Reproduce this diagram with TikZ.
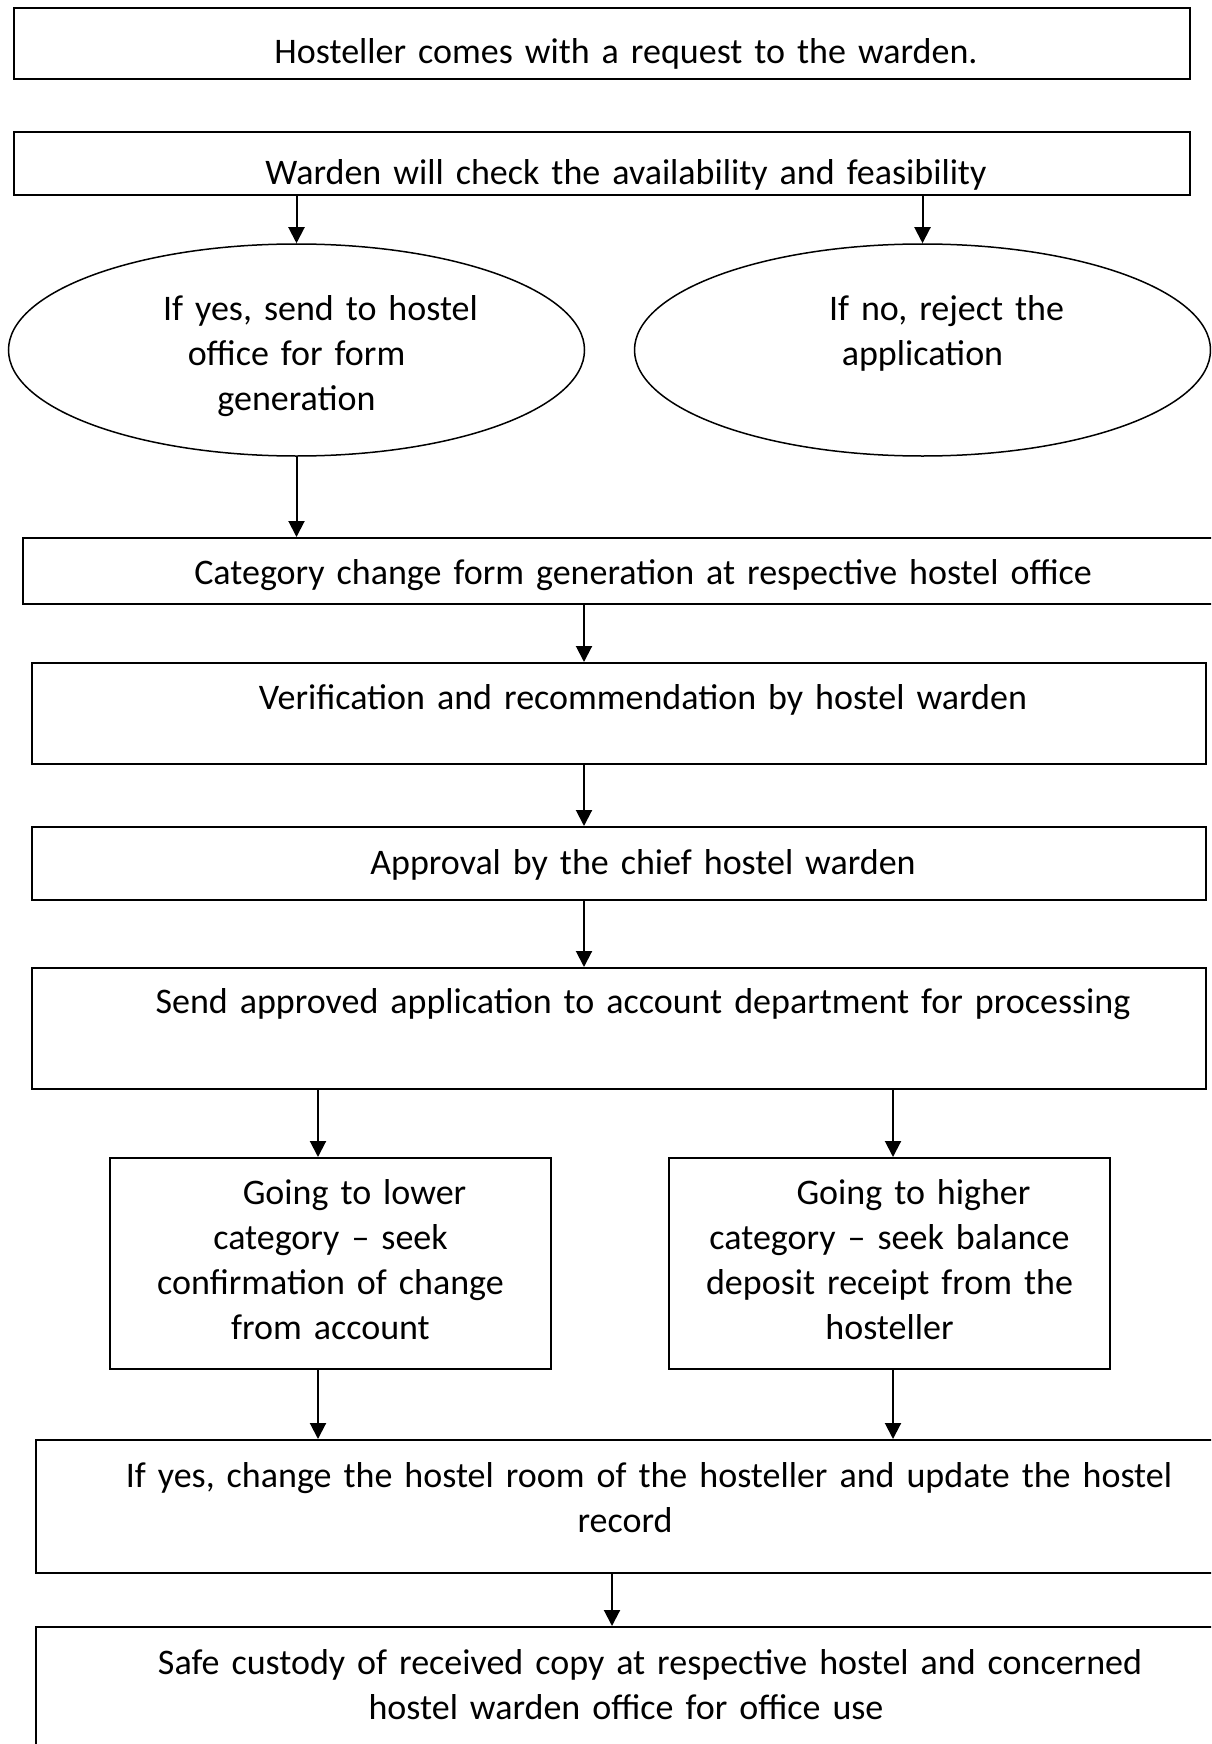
\documentclass[tikz,border=0pt]{standalone}
\usepackage{fontspec}
\setmainfont{Carlito}
\usetikzlibrary{arrows.meta,shapes.geometric}

\begin{document}
\begin{tikzpicture}[
    x=0.5pt, y=-0.5pt,
    font=\fontsize{18pt}{22.5pt}\selectfont,
    stage/.style={draw, line width=1pt, rectangle, anchor=north, inner sep=0pt, align=center, text width=#1, minimum width=#1},
    choice/.style={draw, line width=0.75pt, ellipse, inner sep=0pt, minimum width=288pt, minimum height=106pt, text width=190pt, align=center, text height=15pt, text depth=45pt},
    flow/.style={-{Triangle[length=8pt,width=8pt]}, line width=1pt}
]

% page frame (bottom and right boxes run off the page)
\useasboundingbox (0,0) rectangle (1211,1744);
\clip (0,0) rectangle (1211,1744);

% first line indent of the text
\def\xind{24pt}

% ===== REQUEST =====
\node[stage=588pt, text height=28pt, text depth=7.5pt] (req) at (602,7) {\hspace*{\xind}Hosteller comes with a request to the warden.};
\node[stage=588pt, text height=26.5pt, text depth=5pt] (check) at (602,131) {\hspace*{\xind}Warden will check the availability and feasibility};

% ===== DECISION =====
\node[choice] (yes) at (296.5,350) {\hspace*{\xind}If yes, send to hostel\\ office for form\\ generation};
\node[choice] (no) at (922.5,350) {\hspace*{\xind}If no, reject the\\ application};

% ===== MAIN FLOW =====
\node[stage=596pt, text height=23pt, text depth=10pt] (form) at (619,537) {\hspace*{\xind}Category change form generation at respective hostel office};
\node[stage=587pt, text height=23pt, text depth=27.5pt] (verify) at (619,662) {\hspace*{\xind}Verification and recommendation by hostel warden};
\node[stage=587pt, text height=23.5pt, text depth=13pt] (approve) at (619,826) {\hspace*{\xind}Approval by the chief hostel warden};
\node[stage=587pt, text height=22.5pt, text depth=38pt] (send) at (619,967) {\hspace*{\xind}Send approved application to account department for processing};

% ===== CATEGORY BRANCHES =====
\node[stage=220.5pt, text height=23pt, text depth=82.5pt] (lower) at (330.5,1157) {\hspace*{\xind}Going to lower\\ category – seek\\ confirmation of change\\ from account};
\node[stage=220.5pt, text height=23pt, text depth=82.5pt] (higher) at (889.5,1157) {\hspace*{\xind}Going to higher\\ category – seek balance\\ deposit receipt from the\\ hosteller};

% ===== RECORD =====
\node[stage=589pt, text height=23.5pt, text depth=43pt] (update) at (625,1439) {\hspace*{\xind}If yes, change the hostel room of the hosteller and update the hostel\\ record};
\node[stage=590pt, text height=23.5pt, text depth=45pt] (custody) at (626,1626) {\hspace*{\xind}Safe custody of received copy at respective hostel and concerned\\ hostel warden office for office use};

% arrow columns
\coordinate (c1) at ([xshift=-17.5pt]form.south);
\coordinate (l1) at ([xshift=-6.25pt]lower.north);
\coordinate (h1) at ([xshift=1.75pt]higher.north);
\coordinate (u1) at ([xshift=-6.5pt]update.south);

% ===== ARROWS =====
\draw[flow] (yes.north |- check.south) -- (yes.north);
\draw[flow] (no.north |- check.south) -- (no.north);
\draw[flow] (yes.south) -- (yes.south |- form.north);
\draw[flow] (c1) -- (c1 |- verify.north);
\draw[flow] (c1 |- verify.south) -- (c1 |- approve.north);
\draw[flow] (c1 |- approve.south) -- (c1 |- send.north);
\draw[flow] (l1 |- send.south) -- (l1);
\draw[flow] (h1 |- send.south) -- (h1);
\draw[flow] (l1 |- lower.south) -- (l1 |- update.north);
\draw[flow] (h1 |- higher.south) -- (h1 |- update.north);
\draw[flow] (u1) -- (u1 |- custody.north);

\end{tikzpicture}
\end{document}
